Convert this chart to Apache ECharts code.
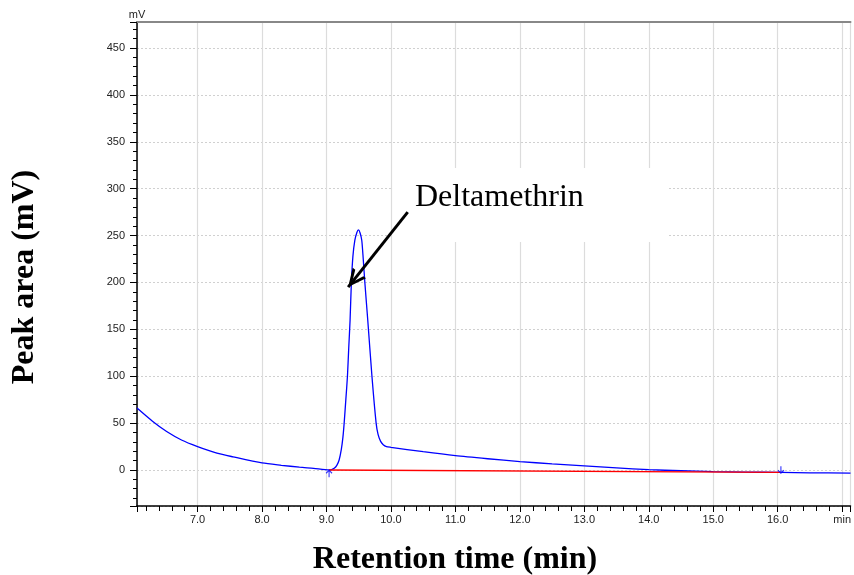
<!DOCTYPE html>
<html>
<head>
<meta charset="utf-8">
<script src="https://cdn.jsdelivr.net/npm/echarts@6/dist/echarts.min.js"></script>
<style>html,body{margin:0;padding:0;background:#fff}#chart{width:854px;height:575px}</style>
</head>
<body>
<div id="chart"></div>
<script>
// Chromatogram signal (retention time in min, signal in mV)
var signalTime = [6.06, 6.3, 6.52, 6.75, 7.0, 7.3, 7.55, 8.0, 8.3, 8.58, 8.8, 9.04, 9.08, 9.12, 9.16, 9.196, 9.23, 9.255, 9.274, 9.30, 9.325, 9.345, 9.366, 9.386, 9.41, 9.44, 9.47, 9.495, 9.52, 9.547, 9.57, 9.595, 9.64, 9.705, 9.77, 9.80, 9.84, 9.88, 9.93, 10.0, 10.5, 11.0, 11.5, 12.0, 12.5, 13.0, 13.5, 14.0, 14.5, 15.0, 15.5, 16.05, 16.5, 17.13];
var signalMv   = [66, 52, 41, 32, 25, 18, 14, 7.5, 5, 3, 1.8, 0.2, 0.5, 1.8, 5, 10.7, 22, 35, 50, 75, 100, 130, 160, 200, 228, 245, 253, 256, 253, 245, 225, 200, 160, 100, 50, 38, 30.5, 27, 25, 24.2, 19.5, 15.3, 12, 9, 6.5, 4.3, 2.2, 0.3, -0.8, -1.7, -2.2, -2.6, -3, -3.3];
// Integration baseline
var baselineTime = [9.04, 16.05];
var baselineMv   = [0, -2.5];
// Peak start / end markers
var markerTime = [9.04, 16.05];
var markerMv   = [-4, 0.3];
// Annotation arrow (from, to) in data coordinates
var arrowFrom = [10.26, 275];
var arrowTo   = [9.336, 195];
var peakName = 'Deltamethrin';

var xMin = 6.06, xMax = 17.13, yMin = -38.4, yMax = 477.7;

function zip(a, b) { return a.map(function (v, i) { return [v, b[i]]; }); }

var chart = echarts.init(document.getElementById('chart'), null, {renderer: 'canvas'});
var labelFont = {fontFamily: 'Liberation Sans, Arial, sans-serif', fontSize: 11, color: '#222'};
var option = {
  animation: false,
  backgroundColor: '#fff',
  grid: {left: 137, top: 22, right: 0, bottom: 69, containLabel: false},
  xAxis: [{
    type: 'value', min: xMin, max: xMax, minInterval: 1, maxInterval: 1,
    axisLine: {show: true, onZero: false, lineStyle: {color: '#000', width: 1.5}},
    axisTick: {show: true, length: 6, lineStyle: {color: '#000', width: 1}},
    minorTick: {show: true, splitNumber: 5, length: 5, lineStyle: {color: '#000', width: 1}},
    axisLabel: Object.assign({margin: 8, showMinLabel: false, showMaxLabel: false,
      formatter: function (v) {
        if (Math.abs(v - Math.round(v)) > 1e-6) return '';
        return Math.round(v) === 17 ? 'min' : v.toFixed(1);
      }}, labelFont),
    splitLine: {show: true, lineStyle: {color: '#dcdcdc', width: 1.2}}
  }, {
    type: 'value', position: 'top', min: xMin, max: xMax,
    axisLine: {show: true, onZero: false, lineStyle: {color: '#888', width: 2}},
    axisTick: {show: false}, axisLabel: {show: false}, splitLine: {show: false}
  }],
  yAxis: {
    type: 'value', min: yMin, max: yMax, minInterval: 50, maxInterval: 50,
    name: 'mV', nameLocation: 'end', nameGap: 2,
    nameTextStyle: labelFont,
    axisLine: {show: true, onZero: false, lineStyle: {color: '#000', width: 1.5}},
    axisTick: {show: true, length: 7, lineStyle: {color: '#000', width: 1}},
    minorTick: {show: true, splitNumber: 5, length: 4, lineStyle: {color: '#000', width: 1}},
    axisLabel: Object.assign({margin: 12, showMinLabel: false, showMaxLabel: false,
      formatter: function (v) { return Math.abs(v % 50) < 1e-6 ? String(v) : ''; }}, labelFont),
    splitLine: {show: true, lineStyle: {color: '#d0d0d0', width: 1, type: [2, 2]}}
  },
  series: [{
    name: 'signal', type: 'line', data: zip(signalTime, signalMv),
    showSymbol: false, smooth: 0.25, silent: true,
    lineStyle: {color: '#0000ff', width: 1.3},
    markLine: {
      silent: true, symbol: ['none', 'path://M0,18 L9,0 L18,18 L14.5,18 L9,6.5 L3.5,18 Z'],
      symbolSize: [17, 18], symbolOffset: [[0, 0], [0, 9]],
      label: {show: false},
      lineStyle: {color: '#000', width: 3, type: 'solid'},
      emphasis: {disabled: true},
      data: [[{coord: arrowFrom}, {coord: arrowTo}]]
    }
  }, {
    name: 'baseline', type: 'line', data: zip(baselineTime, baselineMv),
    showSymbol: false, silent: true,
    lineStyle: {color: '#ff0000', width: 1.3}
  }, {
    name: 'markers', type: 'scatter', silent: true, z: 5,
    data: zip(markerTime, markerMv),
    symbol: 'path://M5,0 L5,12 M0,5 L5,0 L10,5',
    symbolSize: [6, 7],
    symbolRotate: function (val, p) { return p.dataIndex === 0 ? 0 : 180; },
    itemStyle: {color: 'transparent', borderColor: '#0000ff', borderWidth: 1.2}
  }],
  graphic: [
    {type: 'rect', z: 1, shape: {x: 393, y: 168, width: 275, height: 74}, style: {fill: '#fff'}},
    {type: 'text', z: 100, x: 415, y: 198, style: {text: peakName, font: '32px "Liberation Serif", "Times New Roman", serif', fill: '#000', verticalAlign: 'middle', align: 'left'}},
    {type: 'text', z: 100, x: 455, y: 560, style: {text: 'Retention time (min)', font: 'bold 32px "Liberation Serif", "Times New Roman", serif', fill: '#000', verticalAlign: 'middle', align: 'center'}},
    {type: 'text', z: 100, x: 25, y: 277, rotation: Math.PI / 2, style: {text: 'Peak area (mV)', font: 'bold 32px "Liberation Serif", "Times New Roman", serif', fill: '#000', verticalAlign: 'middle', align: 'center'}}
  ]
};
chart.setOption(option);
</script>
</body>
</html>
